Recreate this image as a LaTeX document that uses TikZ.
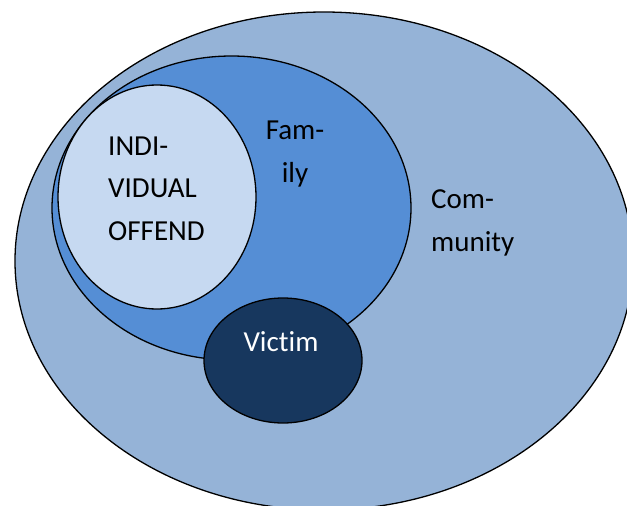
\documentclass[tikz,border=0pt]{standalone}
\usepackage{fontspec}
\setmainfont{Carlito}[Ligatures=NoCommon]
\definecolor{commblue}{HTML}{95B3D7}
\definecolor{famblue}{HTML}{558ED5}
\definecolor{indblue}{HTML}{C6D9F1}
\definecolor{vicblue}{HTML}{17375E}
\tikzset{
    ring/.style={draw=black, line width=1.3pt},
    lbl/.style={font=\fontsize{29}{42.5}\selectfont, align=left, inner sep=0pt, anchor=base west}
}

\begin{document}
\begin{tikzpicture}[x=1pt,y=-1pt]
    \useasboundingbox (0,0) rectangle (627,506);
    \clip (0,0) rectangle (627,506);
    \draw[ring, fill=commblue] (324,261) ellipse (309 and 249);
    \draw[ring, fill=famblue] (231.5,208) ellipse (179.5 and 152);
    \draw[ring, fill=indblue] (157,197) ellipse (99 and 112);
    \draw[ring, fill=vicblue] (283,360.5) ellipse (79 and 62.5);
    % base anchor sits on the last line
    \node[lbl] (O) at (108,240) {INDI-\\VIDUAL\\OFFEND};
    \node[lbl, align=center, anchor=base] (F) at (295,182) {Fam-\\ily};
    \node[lbl] (C) at (431,251) {Com-\\munity};
    \node[lbl, text=white, anchor=base] (V) at (281,351) {Victim};
\end{tikzpicture}
\end{document}
